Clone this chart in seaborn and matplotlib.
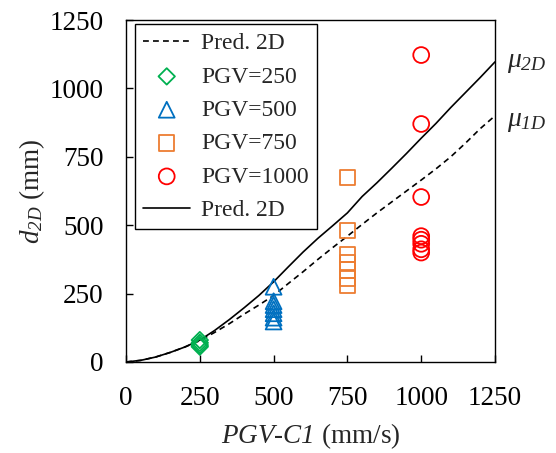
import numpy as np
import pandas as pd
import matplotlib
matplotlib.use('Agg')
import matplotlib.pyplot as plt
import seaborn as sns

# ---- data ----
pred_x = [0, 50, 100, 150, 200, 250, 300, 350, 400, 450, 500, 550, 600, 650,
          700, 750, 800, 850, 900, 950, 1000, 1050, 1100, 1150, 1200, 1250]
pred_2d = [0, 6, 18, 35, 55, 80, 115, 155, 198, 243, 293, 348, 402, 452,
           498, 545, 605, 655, 708, 762, 818, 872, 930, 985, 1040, 1097]
pred_1d = [0, 6, 18, 35, 55, 78, 108, 140, 175, 208, 243, 287, 330, 375,
           418, 460, 503, 545, 585, 625, 665, 706, 750, 800, 853, 900]

pgv250 = [80, 70, 62, 56]
pgv500 = [275, 222, 208, 193, 178, 162, 148]
pgv750 = [675, 482, 392, 365, 336, 305, 280]
pgv1000 = [1122, 870, 603, 460, 447, 432, 412, 400]

groups = [
    ('PGV=250', 250, pgv250, 'D', '#00B050', 70),
    ('PGV=500', 500, pgv500, '^', '#0070C0', 130),
    ('PGV=750', 750, pgv750, 's', '#ED7D31', 120),
    ('PGV=1000', 1000, pgv1000, 'o', '#FF0000', 130),
]

sns.set_theme(style='ticks')
plt.rcParams['font.family'] = ['Liberation Serif', 'DejaVu Serif']
# serif italic for math; \mathsf is used so that digits are italic too
plt.rcParams['mathtext.fontset'] = 'custom'
plt.rcParams['mathtext.rm'] = 'Liberation Serif'
plt.rcParams['mathtext.it'] = 'Liberation Serif:italic'
plt.rcParams['mathtext.sf'] = 'Liberation Serif:italic'

fig = plt.figure(figsize=(5.56, 4.53), dpi=100)
ax = fig.add_axes([0.2266, 0.2009, 0.6637, 0.7549])

df_pred = pd.DataFrame({'x': pred_x, 'p2d': pred_2d, 'p1d': pred_1d})

# dashed line first (legend order follows the reference)
sns.lineplot(data=df_pred, x='x', y='p1d', ax=ax, color='black',
             linestyle=(0, (3.5, 2.5)), linewidth=1.2, label='Pred. 2D')

for lab, xv, vals, mk, col, s in groups:
    d = pd.DataFrame({'x': [xv] * len(vals), 'y': vals})
    sns.scatterplot(data=d, x='x', y='y', ax=ax, marker=mk, s=s,
                    facecolor='none', edgecolor=col, linewidth=1.3,
                    label=lab, zorder=3)

sns.lineplot(data=df_pred, x='x', y='p2d', ax=ax, color='black',
             linewidth=1.2, label='Pred. 2D')

ax.set_xlim(0, 1250)
ax.set_ylim(0, 1250)
ax.set_xticks([0, 250, 500, 750, 1000, 1250])
ax.set_yticks([0, 250, 500, 750, 1000, 1250])
ax.tick_params(direction='in', length=5, width=1, labelsize=19.5,
               colors='black')
ax.tick_params(axis='x', pad=17)
ax.tick_params(axis='y', pad=16)
for sp in ax.spines.values():
    sp.set_color('black')
    sp.set_linewidth(1.0)

ax.set_xlabel(r'$\mathsf{PGV}$-$\mathsf{C1}$ (mm/s)', fontsize=19.5,
              labelpad=8)
ax.set_ylabel(r'$d_{\mathsf{2D}}$ (mm)', fontsize=19.5, labelpad=2)

ax.text(1290, 1095, r'$\mu_{\mathsf{2D}}$', fontsize=20, va='center',
        ha='left', clip_on=False)
ax.text(1290, 880, r'$\mu_{\mathsf{1D}}$', fontsize=20, va='center',
        ha='left', clip_on=False)

handles, labels = ax.get_legend_handles_labels()
leg = ax.legend(handles, labels, loc='upper left',
                bbox_to_anchor=(0.024, 0.987), borderaxespad=0,
                fontsize=17, frameon=True, fancybox=False, edgecolor='black',
                framealpha=1, handlelength=2.0, handletextpad=0.45,
                labelspacing=0.5, borderpad=0.35)
leg.get_frame().set_linewidth(1.0)

fig.savefig('out.png', dpi=100)
